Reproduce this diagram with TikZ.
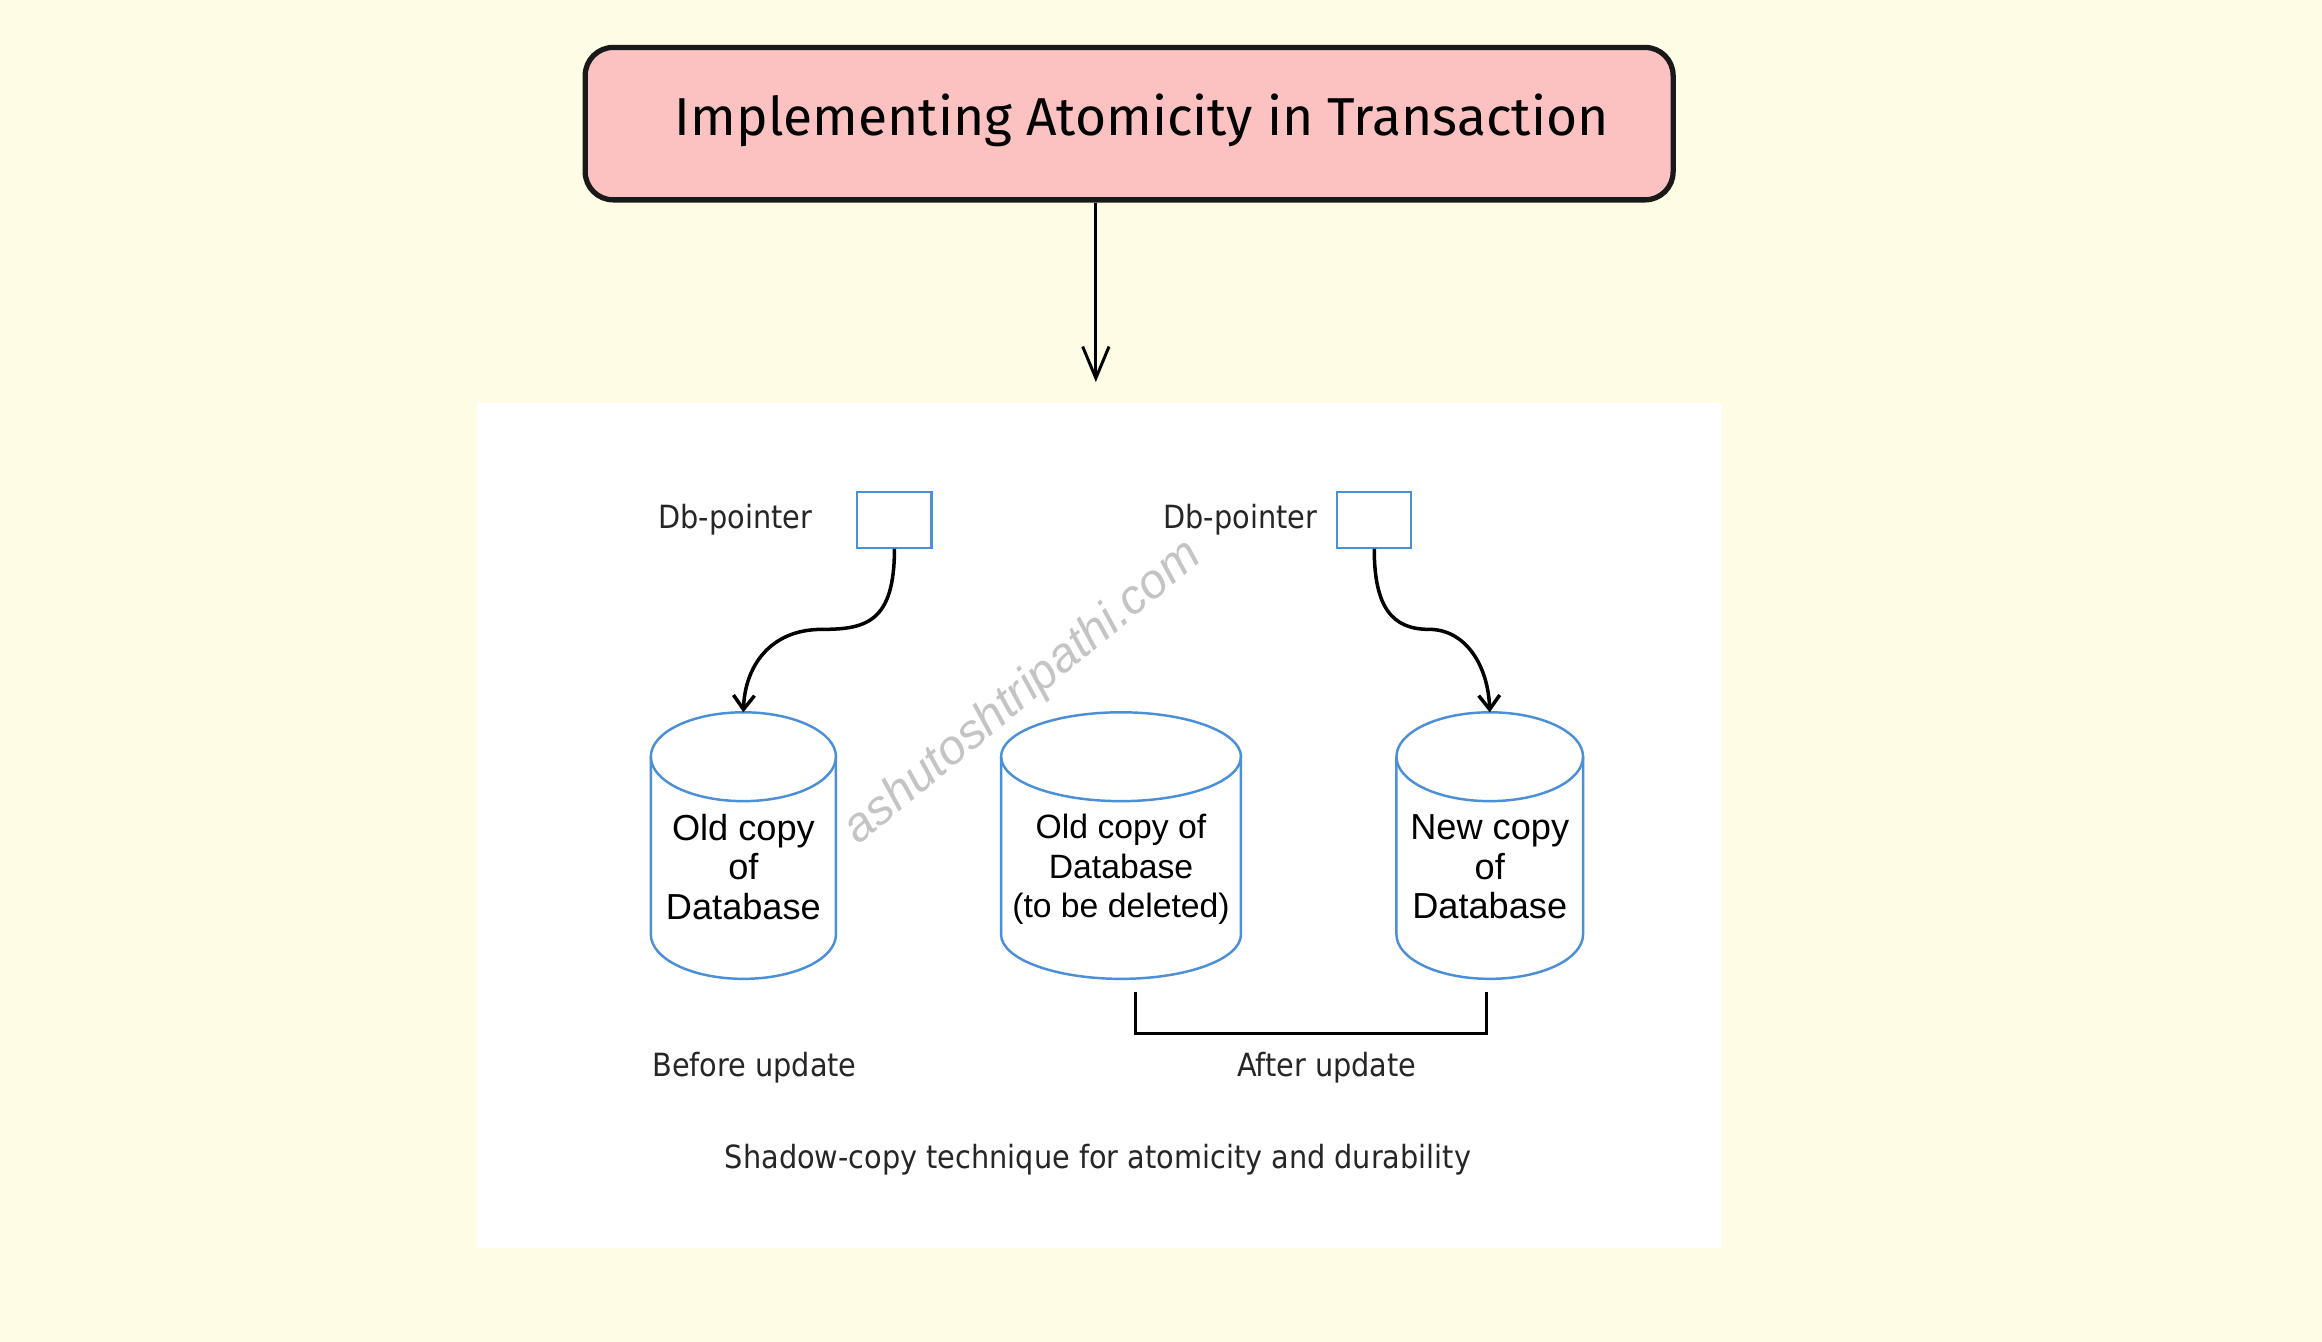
\documentclass[tikz,border=0pt]{standalone}
\usepackage{fontspec}
\setmainfont{Liberation Sans}
\newfontfamily\labfont{DejaVu Sans Condensed}
\newfontfamily\titlefont{Fira Sans}
\usetikzlibrary{arrows.meta}
\definecolor{bgc}{HTML}{FEFCE4}
\definecolor{pinkc}{HTML}{FCC2C2}
\definecolor{bluec}{HTML}{4A8FD8}
\definecolor{wmc}{HTML}{C4C4C4}
\newcommand\dbcyl[2]{%
  \draw[cylline] (#1,511) ellipse [x radius=#2, y radius=30];
  \draw[cylline] (#1-#2,511) -- (#1-#2,631) arc[start angle=180, end angle=0, x radius=#2, y radius=30] -- (#1+#2,511);
}
\begin{document}
\begin{tikzpicture}[x=0.014809cm,y=-0.014809cm,
  titlebox/.style={draw=black!90, line width=1.5pt, fill=pinkc, rounded corners=8pt, minimum width=309.7pt, minimum height=43.4pt},
  ptr/.style={draw=bluec, line width=0.6pt, fill=white, minimum width=21.1pt, minimum height=16pt, inner sep=0pt},
  lab/.style={font=\labfont\fontsize{9.1}{10}\selectfont, text=black!85, inner sep=0pt},
  dbtext/.style={font=\fontsize{10.3}{11.2}\selectfont, align=center, inner sep=0pt},
  dbtextn/.style={font=\fontsize{9.6}{11.2}\selectfont, align=center, inner sep=0pt},
  cylline/.style={draw=bluec, line width=0.7pt},
  ptrarrow/.style={line width=1pt, -{Straight Barb[length=4pt,width=6pt]}},
  ]
\fill[bgc] (0,0) rectangle (1568,906);
\useasboundingbox (0,0) rectangle (1568,906);
\fill[white] (322,272) rectangle (1163,843);
% title
\node[titlebox] (title) at (762.5,83.5) {};
\node[font=\titlefont\fontsize{15.2}{18}\selectfont, inner sep=0pt] (titletext) at (771,81) {Implementing Atomicity in Transaction};
\coordinate (arrtip) at (740,258);
\draw[line width=0.85pt, -{Straight Barb[length=9pt,width=7.5pt]}] (title.south -| arrtip) -- (arrtip);
% watermark
\node[font=\itshape\fontsize{13.8}{14}\selectfont, text=wmc, rotate=39.6] (wm) at (691,468) {ashutoshtripathi.com};
% pointers
\node[ptr] (p1) at (604,351) {};
\node[ptr] (p2) at (928,351) {};
\node[lab] (l1) at (496.5,351) {Db-pointer};
\node[lab] (l2) at (837.5,351) {Db-pointer};
% cylinders
\dbcyl{502}{62.5}
\dbcyl{757}{81}
\dbcyl{1006}{63}
\coordinate (c1) at (502,481);
\coordinate (c3) at (1006,481);
\node[dbtext] (t1) at (502,585.5) {Old copy\\of\\Database};
\node[dbtextn] (t2) at (757,587) {Old copy of\\Database\\(to be deleted)};
\node[dbtext] (t3) at (1006,585.5) {New copy\\of\\Database};
% pointer arrows
\draw[ptrarrow] (p1.south) .. controls (604,420) and (585,425) .. (555,425) .. controls (520,425) and (503,450) .. (c1);
\draw[ptrarrow] (p2.south) .. controls (928,410) and (940,425) .. (965,425) .. controls (990,425) and (1005,450) .. (c3);
% bracket
\coordinate (b1) at (767,670);
\coordinate (b2) at (1004,670);
\draw[line width=0.9pt] (b1) -- ++(0,28) -| (b2);
% labels
\node[lab] (before) at (509.5,721) {Before update};
\node[lab] (after) at (896,721) {After update};
\node[lab] (caption) at (741.5,783) {Shadow-copy technique for atomicity and durability};
\end{tikzpicture}
\end{document}
